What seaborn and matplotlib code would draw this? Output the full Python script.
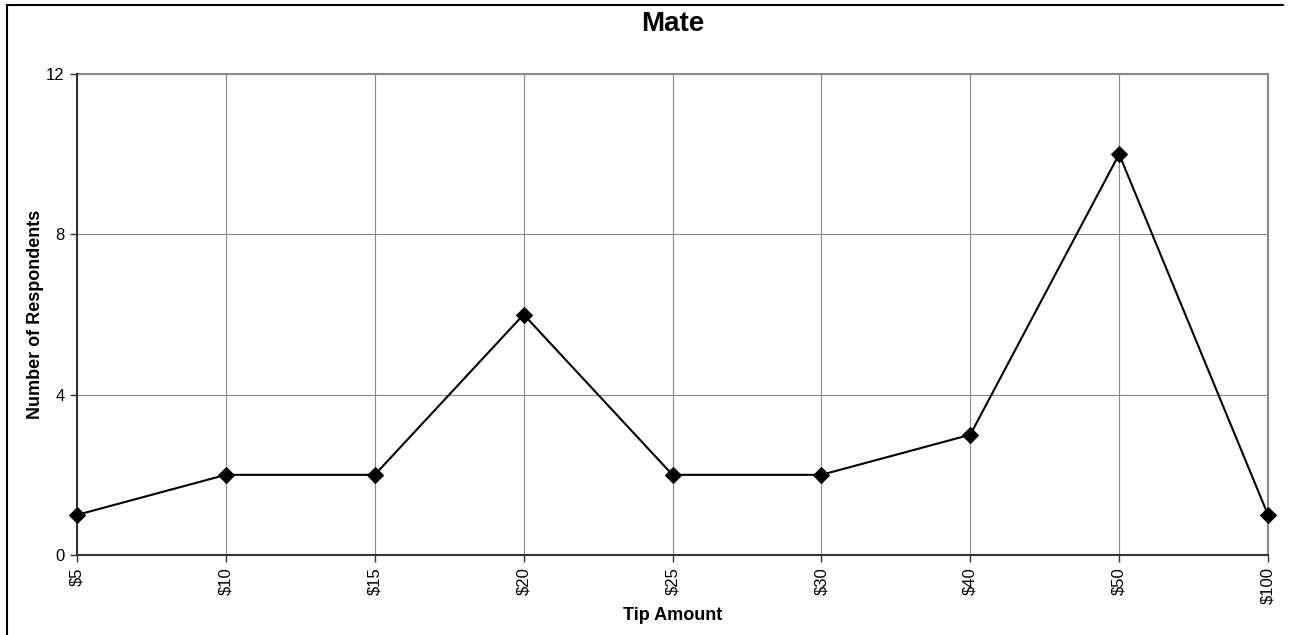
import matplotlib
matplotlib.use("Agg")
import matplotlib.pyplot as plt
import seaborn as sns
import pandas as pd
from matplotlib.lines import Line2D

categories = ["$5", "$10", "$15", "$20", "$25", "$30", "$40", "$50", "$100"]
respondents = [1, 2, 2, 6, 2, 2, 3, 10, 1]
y_ticks = [0, 4, 8, 12]

sns.set_theme(style="white")
plt.rcParams['font.family'] = ['Liberation Sans', 'DejaVu Sans']
plt.rcParams['text.color'] = 'black'
plt.rcParams['axes.labelcolor'] = 'black'
plt.rcParams['xtick.color'] = 'black'
plt.rcParams['ytick.color'] = 'black'

df = pd.DataFrame({"pos": range(len(categories)), "count": respondents})

fig = plt.figure(figsize=(12.92, 6.35), dpi=100)
ax = fig.add_axes([77/1292, 1-555/635, (1268-77)/1292, (555-74)/635])

sns.lineplot(data=df, x="pos", y="count", ax=ax, color="black", linewidth=1.5,
             marker="D", markersize=8, markeredgecolor="black", markerfacecolor="black")
for ln in ax.lines:
    ln.set_clip_on(False)
    ln.set_zorder(5)

ax.set_xlim(0, len(categories) - 1)
ax.set_ylim(0, 12)
ax.set_xticks(range(len(categories)))
ax.set_xticklabels(categories, rotation=90, fontsize=12)
ax.set_yticks(y_ticks)
ax.set_yticklabels([str(t) for t in y_ticks], fontsize=12)

ax.grid(True, color="#8a8a8a", linewidth=0.8)
ax.set_axisbelow(True)
for s in ["top", "right"]:
    ax.spines[s].set_color("#8a8a8a")
    ax.spines[s].set_linewidth(1.5)
for s in ["left", "bottom"]:
    ax.spines[s].set_color("#333333")
    ax.spines[s].set_linewidth(1.5)
    ax.spines[s].set_zorder(4)

ax.tick_params(axis="both", which="major", length=5, width=1, color="#333333",
               direction="out", bottom=True, left=True, pad=4, labelcolor="black")

ax.set_xlabel("Tip Amount", fontsize=13, fontweight="bold", labelpad=2, color="black")
ax.set_ylabel("Number of Respondents", fontsize=13, fontweight="bold", labelpad=1, color="black")
ax.set_title("Mate", fontsize=20, fontweight="bold", pad=31, color="black")

# outer chart border (top and left visible)
fig.add_artist(Line2D([7/1292, 1283/1292], [1-5/635, 1-5/635], color="black", linewidth=1.5, transform=fig.transFigure))
fig.add_artist(Line2D([7/1292, 7/1292], [1-5/635, 0], color="black", linewidth=1.5, transform=fig.transFigure))

fig.savefig("out.png", dpi=100)
